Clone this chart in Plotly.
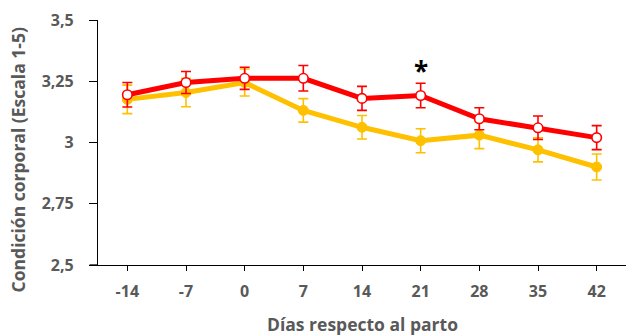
import plotly.graph_objects as go

dias = ["-14", "-7", "0", "7", "14", "21", "28", "35", "42"]
rojo = [3.195, 3.245, 3.262, 3.262, 3.180, 3.192, 3.097, 3.060, 3.020]
rojo_err = [0.050, 0.045, 0.045, 0.052, 0.049, 0.050, 0.045, 0.048, 0.049]
amarillo = [3.176, 3.204, 3.245, 3.131, 3.062, 3.007, 3.030, 2.970, 2.900]
amarillo_err = [0.058, 0.058, 0.055, 0.048, 0.048, 0.049, 0.055, 0.049, 0.053]
y_ticks = [2.5, 2.75, 3.0, 3.25, 3.5]
y_ticktext = ["2,5", "2,75", "3", "3,25", "3,5"]
sig_dia = "21"
sig_y = 3.29

GRIS = "#595959"
FONT = "Open Sans"

fig = go.Figure()
fig.add_trace(go.Scatter(
    x=dias, y=amarillo, mode="lines+markers",
    line=dict(color="#FFC000", width=5),
    marker=dict(color="#FFC000", size=10, line=dict(color="#FFC000", width=1)),
    error_y=dict(type="data", array=amarillo_err, color="#FFC000", thickness=1.6, width=5),
    showlegend=False,
))
fig.add_trace(go.Scatter(
    x=dias, y=rojo, mode="lines+markers",
    line=dict(color="#FF0000", width=5),
    marker=dict(color="white", size=9.5, line=dict(color="#FF0000", width=1.6)),
    error_y=dict(type="data", array=rojo_err, color="#FF0000", thickness=1.6, width=5),
    showlegend=False,
))

fig.add_annotation(x=dias.index(sig_dia), y=sig_y, text="<b>*</b>", showarrow=False,
                   font=dict(family=FONT, size=26, color="black"),
                   xanchor="center", yanchor="middle")

fig.add_annotation(xref="paper", yref="paper", x=-0.152, y=0.43,
                   text="<b>Condición corporal (Escala 1-5)</b>", textangle=-90,
                   showarrow=False, xanchor="center", yanchor="middle",
                   font=dict(family=FONT, size=17.5, color=GRIS))
fig.add_annotation(xref="paper", yref="paper", x=0.5, y=-0.242,
                   text="<b>Días respecto al parto</b>",
                   showarrow=False, xanchor="center", yanchor="middle",
                   font=dict(family=FONT, size=17.5, color=GRIS))

# x axis line extends a little to the left of the y axis
fig.add_shape(type="line", xref="paper", yref="paper", x0=-0.016, x1=0, y0=0, y1=0,
              line=dict(color="black", width=1.3))

fig.update_layout(
    width=626, height=335,
    margin=dict(l=98, r=0, t=20, b=70),
    paper_bgcolor="white", plot_bgcolor="white",
    font=dict(family=FONT, color=GRIS),
    hovermode=False,
    xaxis=dict(
        type="category", range=[-0.5, 8.5], automargin=False,
        showline=True, linecolor="black", linewidth=1.3,
        ticks="outside", ticklen=5, tickcolor="black", tickwidth=1.3,
        ticklabelstandoff=7,
        showgrid=False, zeroline=False,
        tickfont=dict(family=FONT, size=16, color=GRIS, weight="bold"),
    ),
    yaxis=dict(
        range=[2.5, 3.5], tickvals=y_ticks, ticktext=y_ticktext, automargin=False,
        showline=True, linecolor="black", linewidth=1.3,
        ticks="outside", ticklen=8, tickcolor="black", tickwidth=1.3,
        ticklabelstandoff=12,
        showgrid=False, zeroline=False,
        tickfont=dict(family=FONT, size=16, color=GRIS, weight="bold"),
    ),
)

fig.write_html(
    "out.html",
    config={"displayModeBar": False},
    post_script="document.body.style.margin='0';document.body.style.overflow='hidden';",
)
